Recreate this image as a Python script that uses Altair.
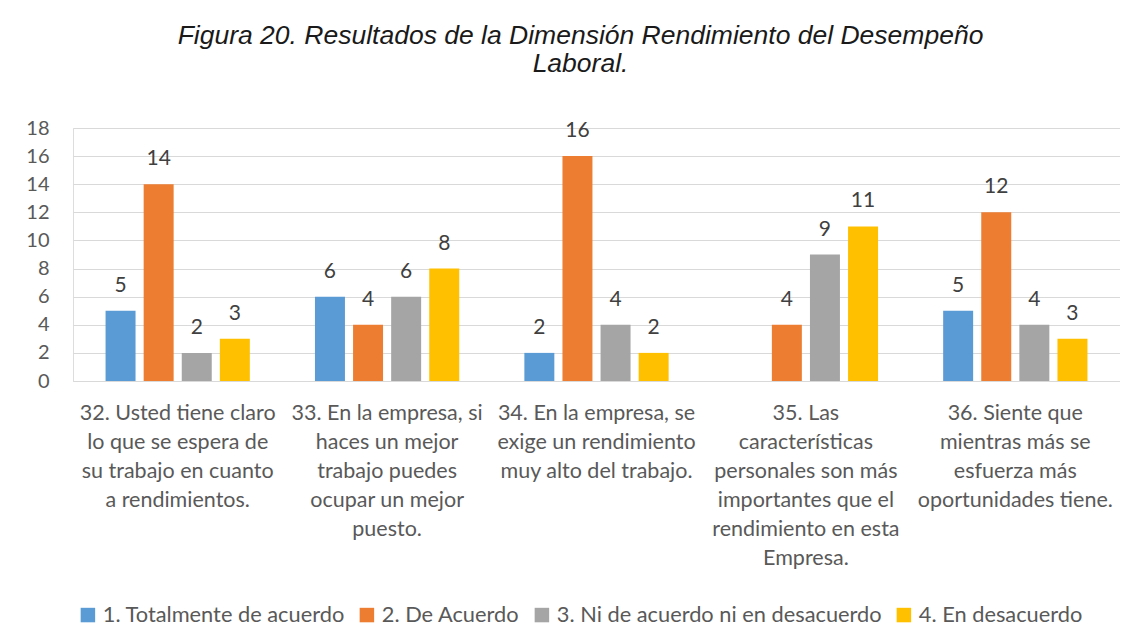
import altair as alt
import pandas as pd

categories = [
    "32. Usted tiene claro\nlo que se espera de\nsu trabajo en cuanto\na rendimientos.",
    "33. En la empresa, si\nhaces un mejor\ntrabajo puedes\nocupar un mejor\npuesto.",
    "34. En la empresa, se\nexige un rendimiento\nmuy alto del trabajo.",
    "35. Las\ncaracterísticas\npersonales son más\nimportantes que el\nrendimiento en esta\nEmpresa.",
    "36. Siente que\nmientras más se\nesfuerza más\noportunidades tiene.",
]
series = [
    "1. Totalmente de acuerdo",
    "2. De Acuerdo",
    "3. Ni de acuerdo ni en desacuerdo",
    "4. En desacuerdo",
]
colors = ["#5B9BD5", "#ED7D31", "#A5A5A5", "#FFC000"]

totalmente = [5, 6, 2, None, 5]
de_acuerdo = [14, 4, 16, 4, 12]
ni_ni = [2, 6, 4, 9, 4]
desacuerdo = [3, 8, 2, 11, 3]

rows = []
for s, vals in zip(series, [totalmente, de_acuerdo, ni_ni, desacuerdo]):
    for c, v in zip(categories, vals):
        if v is not None:
            rows.append({"cat": c, "series": s, "value": v})
df = pd.DataFrame(rows)

FONT = "Lato"
TXT = "#595959"

x = alt.X(
    "cat:N",
    sort=categories,
    scale=alt.Scale(paddingInner=0.311, paddingOuter=0.1555),
    axis=alt.Axis(
        title=None,
        labelExpr="split(datum.label, '\\n')",
        labelAngle=0,
        labelAlign="center",
        labelBaseline="top",
        labelFont=FONT,
        labelFontSize=21.5,
        labelColor=TXT,
        labelLineHeight=29,
        labelPadding=21,
        labelLimit=0,
        ticks=False,
        domainColor="#D9D9D9",
        domainWidth=1,
    ),
)
xoff = alt.XOffset("series:N", sort=series, scale=alt.Scale(paddingInner=0.213, paddingOuter=0))
y = alt.Y(
    "value:Q",
    scale=alt.Scale(domain=[0, 18]),
    axis=alt.Axis(
        title=None,
        values=list(range(0, 19, 2)),
        grid=True,
        gridColor="#D9D9D9",
        gridWidth=1,
        domain=False,
        ticks=False,
        labelPadding=24,
        labelFont=FONT,
        labelFontSize=20,
        labelColor=TXT,
    ),
)
color = alt.Color(
    "series:N",
    sort=series,
    scale=alt.Scale(domain=series, range=colors),
    legend=alt.Legend(
        title=None,
        orient="none",
        legendX=4,
        legendY=476,
        direction="horizontal",
        columns=4,
        symbolType="square",
        symbolSize=210,
        symbolStrokeWidth=0,
        labelFont=FONT,
        labelFontSize=21.8,
        labelColor=TXT,
        labelOffset=4,
        columnPadding=11,
        labelLimit=0,
    ),
)

base = alt.Chart(df)
bars = base.mark_bar().encode(x=x, xOffset=xoff, y=y, color=color)
labels = base.mark_text(
    baseline="alphabetic", dy=-19, font=FONT, fontSize=21, color="#404040"
).encode(x=x, xOffset=xoff, y=y, text=alt.Text("value:Q"))

chart = (
    alt.layer(bars, labels)
    .properties(
        width=1047,
        height=253,
        title=alt.TitleParams(
            ["Figura 20. Resultados de la Dimensión Rendimiento del Desempeño", "Laboral."],
            font="Liberation Sans",
            fontStyle="italic",
            fontWeight="normal",
            fontSize=26.5,
            color="#1a1a1a",
            anchor="middle",
            frame="group",
            dx=-16,
            offset=41,
            lineHeight=28,
        ),
        autosize=alt.AutoSizeParams(type="none"),
        padding={"left": 65, "top": 120, "right": 0, "bottom": 245},
    )
    .configure_view(stroke=None)
    .configure(background="white")
)

chart.save("out.html", embed_options={"renderer": "svg", "actions": False})
